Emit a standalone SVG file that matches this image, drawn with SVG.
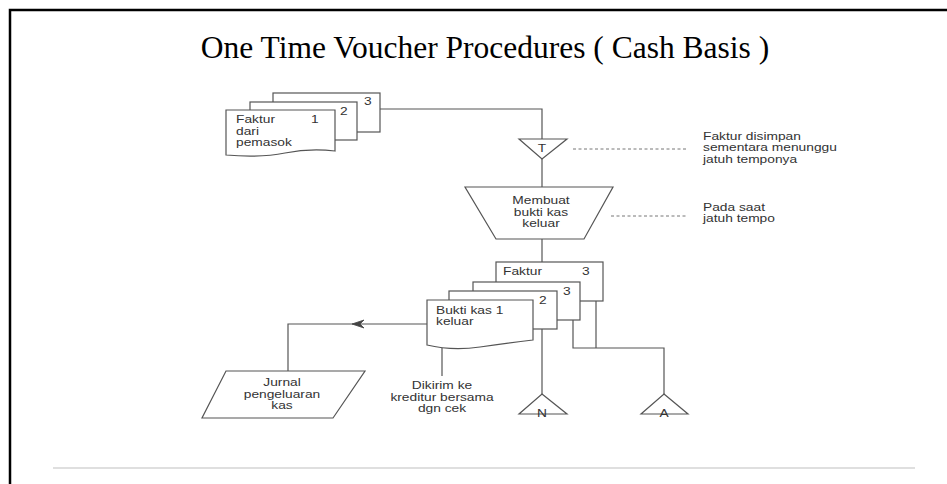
<svg xmlns="http://www.w3.org/2000/svg" width="947" height="484" viewBox="0 0 947 484">
<style>
.t{font-family:"Liberation Sans",Arial,sans-serif;font-size:10.2px;fill:#333}
.m{text-anchor:middle}
.s{fill:#fff;stroke:#555;stroke-width:1.2}
.c{fill:none;stroke:#555;stroke-width:1.2}
.d{fill:none;stroke:#777;stroke-width:1;stroke-dasharray:3 2.5}
</style>
<rect x="0" y="0" width="947" height="484" fill="#fff"/>
<rect x="10" y="10" width="960" height="500" fill="none" stroke="#000" stroke-width="2.5"/>
<line x1="53" y1="468" x2="915" y2="468" stroke="#d4d4d4" stroke-width="1.5"/>
<text x="485" y="58" text-anchor="middle" font-family="'Liberation Serif','Times New Roman',serif" font-size="31.5" fill="#000">One Time Voucher Procedures ( Cash Basis )</text>

<g id="connectors">
<path class="c" d="M380,109 H542 V139"/>
<path class="c" d="M542,159 V187"/>
<path class="c" d="M542,239 V262"/>
<path class="c" d="M427,324 H288 V371"/>
<path d="M352,324 L364,320 L360,324 L364,328 Z" fill="#444" stroke="#444" stroke-width="0.8"/>
<path class="c" d="M442,346 V376"/>
<path class="c" d="M542,329 V394"/>
<path class="c" d="M573,320 V348 H664 V394"/>
<path class="c" d="M596,301 V348"/>
<path class="d" d="M573,149 H688"/>
<path class="d" d="M611,216 H687"/>
</g>

<g id="faktur-pemasok">
<rect class="s" x="273" y="93" width="107" height="39"/>
<rect class="s" x="250" y="102" width="107" height="38"/>
<path class="s" d="M226,110 H335 V151 Q310,148 285,153 T226,155 Z"/>
<text class="t" transform="translate(236 123) scale(1.35 1)">Faktur</text>
<text class="t" transform="translate(236 134.5) scale(1.35 1)">dari</text>
<text class="t" transform="translate(236 146) scale(1.35 1)">pemasok</text>
<text class="t" transform="translate(311 123) scale(1.35 1)">1</text>
<text class="t" transform="translate(340 115) scale(1.35 1)">2</text>
<text class="t" transform="translate(364 105) scale(1.35 1)">3</text>
</g>

<g id="arsip-T">
<polygon class="s" points="519,139 567,139 542,159"/>
<text class="t m" transform="translate(542 151.5) scale(1.35 1)">T</text>
</g>

<g id="note-disimpan">
<text class="t" transform="translate(703 139.5) scale(1.35 1)">Faktur disimpan</text>
<text class="t" transform="translate(703 151) scale(1.35 1)">sementara menunggu</text>
<text class="t" transform="translate(703 162.5) scale(1.35 1)">jatuh temponya</text>
</g>

<g id="membuat-bkk">
<polygon class="s" points="465,187 613,187 584,239 496,239"/>
<text class="t m" transform="translate(541 204) scale(1.35 1)">Membuat</text>
<text class="t m" transform="translate(541 215.6) scale(1.35 1)">bukti kas</text>
<text class="t m" transform="translate(541 227.2) scale(1.35 1)">keluar</text>
</g>

<g id="note-jatuh-tempo">
<text class="t" transform="translate(703 210.5) scale(1.35 1)">Pada saat</text>
<text class="t" transform="translate(703 222) scale(1.35 1)">jatuh tempo</text>
</g>

<g id="dokumen-bkk">
<rect class="s" x="496" y="262" width="107" height="39"/>
<rect class="s" x="473" y="282" width="107" height="38"/>
<rect class="s" x="449" y="291" width="108" height="38"/>
<path class="s" d="M427,300 H533 V340 Q508,343 480,347 T427,345 Z"/>
<text class="t" transform="translate(503 275) scale(1.35 1)">Faktur</text>
<text class="t" transform="translate(582 275) scale(1.35 1)">3</text>
<text class="t" transform="translate(563 295) scale(1.35 1)">3</text>
<text class="t" transform="translate(539 304) scale(1.35 1)">2</text>
<text class="t" transform="translate(436 313.5) scale(1.35 1)">Bukti kas 1</text>
<text class="t" transform="translate(436 325) scale(1.35 1)">keluar</text>
</g>

<g id="jurnal">
<polygon class="s" points="226,371 365,371 333,418 202,418"/>
<text class="t m" transform="translate(282 386) scale(1.35 1)">Jurnal</text>
<text class="t m" transform="translate(282 397.5) scale(1.35 1)">pengeluaran</text>
<text class="t m" transform="translate(282 409) scale(1.35 1)">kas</text>
</g>

<g id="note-dikirim">
<text class="t m" transform="translate(442 389) scale(1.35 1)">Dikirim ke</text>
<text class="t m" transform="translate(442 400.5) scale(1.35 1)">kreditur bersama</text>
<text class="t m" transform="translate(442 412) scale(1.35 1)">dgn cek</text>
</g>

<g id="arsip-N">
<polygon class="s" points="542,394 567,414 519,414"/>
<text class="t m" transform="translate(542 417) scale(1.35 1)">N</text>
</g>

<g id="arsip-A">
<polygon class="s" points="664,394 688,414 641,414"/>
<text class="t m" transform="translate(664 417) scale(1.35 1)">A</text>
</g>
</svg>
